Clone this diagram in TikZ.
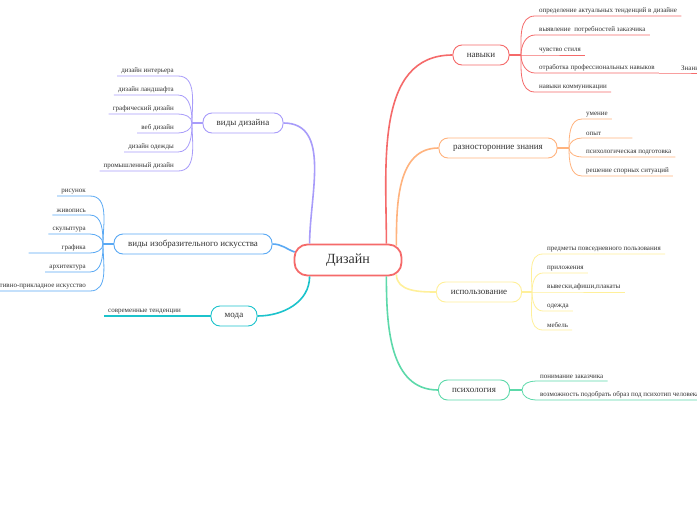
\documentclass[tikz,border=0pt]{standalone}
\usepackage{fontspec}
\setmainfont{Liberation Serif}
\definecolor{dred}{HTML}{F56A6A}
\definecolor{dorange}{HTML}{FFB37E}
\definecolor{dyellow}{HTML}{FFF09A}
\definecolor{dgreen}{HTML}{5DD9AA}
\definecolor{dpurple}{HTML}{A89CFA}
\definecolor{dblue}{HTML}{5AA9F4}
\definecolor{dcyan}{HTML}{1CC3CC}
\definecolor{txt}{HTML}{333333}
\tikzset{
  leaf/.style={font=\fontsize{7}{8}\selectfont, text=txt, inner xsep=4pt, inner ysep=2pt},
  leafR/.style={leaf, anchor=south west},
  leafL/.style={leaf, anchor=south east},
  topic/.style={draw, rounded corners=9pt, minimum height=20pt, line width=0.9pt,
    fill=white, font=\fontsize{9}{10}\selectfont, text=txt},
  twig/.style={line width=0.8pt},
  limb/.style={line width=1.6pt},
}
\begin{document}
\begin{tikzpicture}[x=1pt,y=1pt]
\useasboundingbox[fill=white] (0,0) rectangle (697,-520);

% main idea and topics
\node[topic, minimum width=107pt, minimum height=31pt, rounded corners=13pt, draw=dred,
  line width=1.8pt, font=\fontsize{14}{16}\selectfont] (dizajn) at (348,-260) {Дизайн};
\node[topic, draw=dred, minimum width=56pt] (navyki) at (481,-55) {навыки};
\node[topic, draw=dorange, minimum width=118pt] (znanija) at (498,-148) {разносторонние знания};
\node[topic, draw=dyellow, minimum width=85pt] (ispolz) at (479,-292) {использование};
\node[topic, draw=dgreen, minimum width=71pt] (psih) at (474,-390) {психология};
\node[topic, draw=dpurple, minimum width=80pt] (vidydiz) at (243,-123) {виды дизайна};
\node[topic, draw=dblue, minimum width=158pt] (vidyizo) at (193,-244) {виды изобразительного искусства};
\node[topic, draw=dcyan, minimum width=46pt] (moda) at (234,-316) {мода};

\draw[limb, dred] ([xshift=-16pt]dizajn.north east) to[out=90,in=180] (navyki.west);
\draw[limb, dorange] ([xshift=-6pt,yshift=-2pt]dizajn.north east) to[out=90,in=180] (znanija.west);
\draw[limb, dyellow] ([xshift=-6pt,yshift=2pt]dizajn.south east) to[out=-90,in=180] (ispolz.west);
\draw[limb, dgreen] ([xshift=-16pt]dizajn.south east) to[out=-90,in=180] (psih.west);
\draw[limb, dpurple] ([xshift=16pt]dizajn.north west) to[out=90,in=0] (vidydiz.east);
\draw[limb, dblue] ([xshift=1pt,yshift=8pt]dizajn.west) to[out=160,in=0] (vidyizo.east);
\draw[limb, dcyan] ([xshift=16pt]dizajn.south west) to[out=-90,in=0] (moda.east);

% navyki
\coordinate (navhub) at (521,-55);
\node[leafR] (nav1) at (535,-16) {определение актуальных тенденций в дизайне};
\node[leafR] (nav2) at (535,-35) {выявление \ потребностей заказчика};
\node[leafR] (nav3) at (535,-55) {чувство стиля};
\node[leafR] (nav4) at (535,-73) {отработка профессиональных навыков};
\node[leafR] (nav5) at (535,-92) {навыки коммуникации};
\node[leafR] (nav6) at (677,-73) {Знания};
\draw[limb, dred] (navyki.east) -- (navhub);
\draw[twig, dred] (navhub) to[out=90,in=180] (nav1.south west) -- (nav1.south east);
\draw[twig, dred] (navhub) to[out=90,in=180] (nav2.south west) -- (nav2.south east);
\draw[twig, dred] (navhub) -- (nav3.south west) -- (nav3.south east);
\draw[twig, dred] (navhub) to[out=-90,in=180] (nav4.south west) -- (nav4.south east);
\draw[twig, dred] (navhub) to[out=-90,in=180] (nav5.south west) -- (nav5.south east);
\draw[twig, dred] (nav4.south east) -- (nav6.south west) -- (nav6.south east);

% znanija
\coordinate (znhub) at (569,-148);
\node[leafR] (zn1) at (582,-119) {умение};
\node[leafR, minimum width=50pt, align=left, text width=42pt] (zn2) at (582,-138) {опыт};
\node[leafR] (zn3) at (582,-157) {психологическая подготовка};
\node[leafR] (zn4) at (582,-176) {решение спорных ситуаций};
\draw[limb, dorange] (znanija.east) -- (znhub);
\draw[twig, dorange] (znhub) to[out=90,in=180] (zn1.south west) -- (zn1.south east);
\draw[twig, dorange] (znhub) to[out=90,in=180] (zn2.south west) -- (zn2.south east);
\draw[twig, dorange] (znhub) to[out=-90,in=180] (zn3.south west) -- (zn3.south east);
\draw[twig, dorange] (znhub) to[out=-90,in=180] (zn4.south west) -- (zn4.south east);

% ispolzovanie
\coordinate (ishub) at (532,-292);
\node[leafR] (is1) at (543,-254) {предметы повседневного пользования};
\node[leafR] (is2) at (543,-273) {приложения};
\node[leafR] (is3) at (543,-292) {вывески,афиши,плакаты};
\node[leafR] (is4) at (543,-311) {одежда};
\node[leafR] (is5) at (543,-330) {мебель};
\draw[limb, dyellow] (ispolz.east) -- (ishub);
\draw[twig, dyellow] (ishub) to[out=90,in=180] (is1.south west) -- (is1.south east);
\draw[twig, dyellow] (ishub) to[out=90,in=180] (is2.south west) -- (is2.south east);
\draw[twig, dyellow] (ishub) -- (is3.south west) -- (is3.south east);
\draw[twig, dyellow] (ishub) to[out=-90,in=180] (is4.south west) -- (is4.south east);
\draw[twig, dyellow] (ishub) to[out=-90,in=180] (is5.south west) -- (is5.south east);

% psihologija
\coordinate (pshub) at (522,-390);
\node[leafR] (ps1) at (536,-381) {понимание заказчика};
\node[leafR] (ps2) at (536,-400) {возможность подобрать образ под психотип человека};
\draw[limb, dgreen] (psih.east) -- (pshub);
\draw[twig, dgreen] (pshub) to[out=90,in=180] (ps1.south west) -- (ps1.south east);
\draw[twig, dgreen] (pshub) to[out=-90,in=180] (ps2.south west) -- (ps2.south east);

% vidy dizajna
\coordinate (vdhub) at (192,-123);
\node[leafL] (vd1) at (178,-76) {дизайн интерьера};
\node[leafL] (vd2) at (178,-95) {дизайн ландшафта};
\node[leafL] (vd3) at (178,-114) {графический дизайн};
\node[leafL] (vd4) at (178,-133) {веб дизайн};
\node[leafL] (vd5) at (178,-152) {дизайн одежды};
\node[leafL] (vd6) at (178,-171) {промышленный дизайн};
\draw[limb, dpurple] (vidydiz.west) -- (vdhub);
\draw[twig, dpurple] (vdhub) to[out=90,in=0] (vd1.south east) -- (vd1.south west);
\draw[twig, dpurple] (vdhub) to[out=90,in=0] (vd2.south east) -- (vd2.south west);
\draw[twig, dpurple] (vdhub) to[out=90,in=0] (vd3.south east) -- (vd3.south west);
\draw[twig, dpurple] (vdhub) to[out=-90,in=0] (vd4.south east) -- (vd4.south west);
\draw[twig, dpurple] (vdhub) to[out=-90,in=0] (vd5.south east) -- (vd5.south west);
\draw[twig, dpurple] (vdhub) to[out=-90,in=0] (vd6.south east) -- (vd6.south west);

% vidy izobrazitelnogo iskusstva
\coordinate (vihub) at (103,-244);
\node[leafL] (vi1) at (90,-196) {рисунок};
\node[leafL] (vi2) at (90,-215) {живопись};
\node[leafL] (vi3) at (90,-234) {скульптура};
\node[leafL, minimum width=61pt, align=right, text width=53pt] (vi4) at (90,-253) {графика};
\node[leafL] (vi5) at (90,-272) {архитектура};
\node[leafL] (vi6) at (90,-291) {декоративно-прикладное искусство};
\draw[limb, dblue] (vidyizo.west) -- (vihub);
\draw[twig, dblue] (vihub) to[out=90,in=0] (vi1.south east) -- (vi1.south west);
\draw[twig, dblue] (vihub) to[out=90,in=0] (vi2.south east) -- (vi2.south west);
\draw[twig, dblue] (vihub) to[out=90,in=0] (vi3.south east) -- (vi3.south west);
\draw[twig, dblue] (vihub) to[out=-90,in=0] (vi4.south east) -- (vi4.south west);
\draw[twig, dblue] (vihub) to[out=-90,in=0] (vi5.south east) -- (vi5.south west);
\draw[twig, dblue] (vihub) to[out=-90,in=0] (vi6.south east) -- (vi6.south west);

% moda
\node[leafR] (mo1) at (104,-316) {современные тенденции};
\draw[limb, dcyan] (moda.west) -- (mo1.south west);
\end{tikzpicture}
\end{document}
